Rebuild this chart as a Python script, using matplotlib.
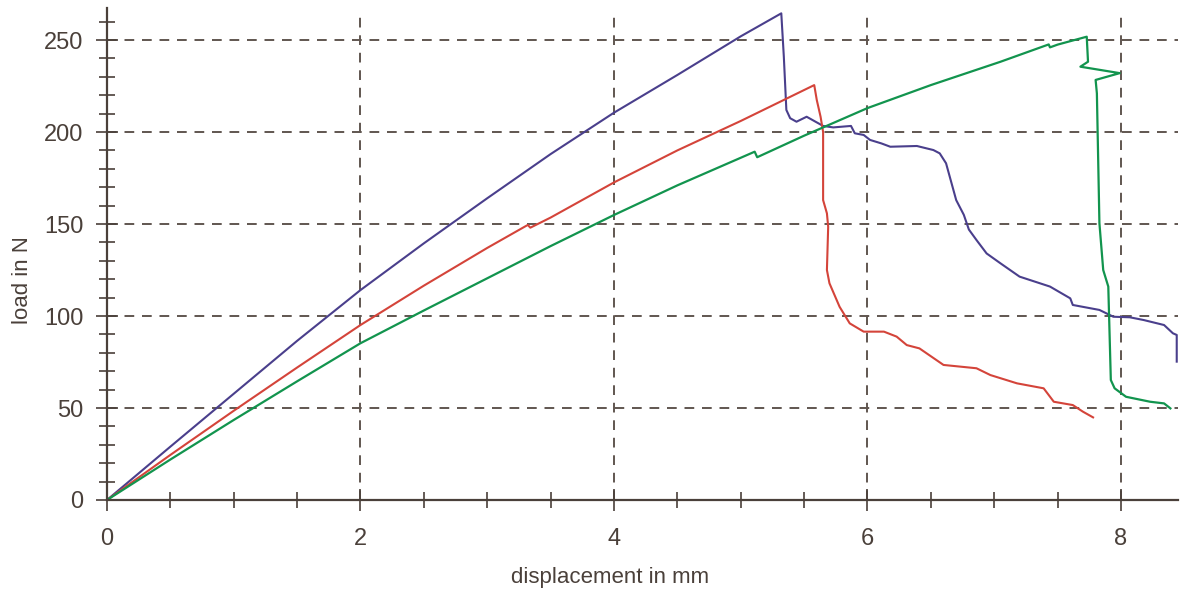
import numpy as np
import matplotlib.pyplot as plt
from matplotlib.ticker import MultipleLocator

# load-displacement curves (x in mm, y in N)
blue_x = [0.0, 0.5, 0.94, 1.5, 2.0, 2.5, 3.0, 3.5, 4.0, 4.5, 5.0, 5.32,
          5.34, 5.36, 5.39, 5.44, 5.52, 5.59, 5.65, 5.73, 5.87, 5.90, 5.97,
          6.02, 6.11, 6.18, 6.39, 6.52, 6.57, 6.62, 6.70, 6.76, 6.80, 6.86,
          6.94, 7.05, 7.20, 7.44, 7.60, 7.62, 7.83, 7.94, 8.07, 8.18, 8.34,
          8.41, 8.44, 8.44]
blue_y = [0.0, 29.0, 54.3, 86.5, 114.1, 139.5, 164.0, 188.0, 210.5, 231.0,
          252.0, 264.5, 241.0, 212.0, 207.5, 205.6, 208.3, 205.6, 203.3,
          202.5, 203.3, 199.3, 198.4, 195.7, 193.8, 192.0, 192.4, 190.2,
          188.4, 183.0, 163.0, 155.0, 147.0, 141.3, 134.0, 128.6, 121.4,
          116.0, 109.6, 106.0, 103.3, 99.6, 99.3, 97.8, 95.1, 90.6, 89.7,
          75.2]

red_x = [0.0, 0.5, 1.0, 1.5, 2.0, 2.5, 3.0, 3.32, 3.34, 3.5, 4.0, 4.5, 5.0,
         5.58, 5.60, 5.63, 5.65, 5.65, 5.68, 5.69, 5.68, 5.70, 5.78, 5.86,
         5.97, 6.13, 6.23, 6.31, 6.41, 6.60, 6.86, 6.97, 7.18, 7.39, 7.47,
         7.62, 7.70, 7.78]
red_y = [0.0, 24.5, 48.5, 72.0, 95.1, 116.5, 137.0, 149.5, 148.0, 153.5,
         172.6, 190.0, 206.0, 225.5, 217.4, 208.3, 200.0, 163.0, 155.8,
         148.5, 125.0, 117.8, 105.0, 96.0, 91.5, 91.5, 88.8, 84.2, 82.4,
         73.4, 71.6, 67.9, 63.4, 60.7, 53.4, 51.6, 48.0, 44.9]

green_x = [0.0, 0.5, 1.0, 1.5, 2.0, 2.5, 3.0, 3.5, 4.0, 4.5, 5.0, 5.11,
           5.13, 5.5, 6.0, 6.5, 7.05, 7.43, 7.44, 7.5, 7.73, 7.74, 7.68,
           7.99, 7.80, 7.81, 7.83, 7.86, 7.90, 7.92, 7.95, 8.04, 8.23, 8.34,
           8.39]
green_y = [0.0, 22.0, 43.5, 64.5, 85.2, 103.0, 120.5, 138.0, 154.9, 171.0,
           186.0, 189.3, 186.3, 198.0, 213.0, 225.5, 238.2, 247.6, 246.0,
           247.5, 251.8, 238.2, 235.5, 232.0, 228.3, 221.0, 150.4, 125.0,
           116.0, 65.2, 60.7, 56.1, 53.4, 52.5, 49.8]

ink = '#4a403a'
plt.rcParams['font.family'] = ['Liberation Sans', 'DejaVu Sans']

fig = plt.figure(figsize=(11.86, 5.95), dpi=100)
ax = fig.add_axes([107/1186, 1 - 500/595, 1071/1186, 492/595])

ax.plot(blue_x, blue_y, color='#4a3f8c', lw=1.5)
ax.plot(red_x, red_y, color='#d4443a', lw=1.5)
ax.plot(green_x, green_y, color='#12944e', lw=1.6)

ax.set_xlim(0, 8.45)
ax.set_ylim(0, 267.4)

# dashed grid at the major values only
for gx in [2, 4, 6, 8]:
    ax.plot([gx, gx], [0, 264], color='#605650', lw=1.4, ls=(0, (5, 4)), zorder=0)
for gy in [50, 100, 150, 200, 250]:
    ax.axhline(gy, color='#605650', lw=1.4, ls=(0, (5, 4)), zorder=0)

for s in ['top', 'right']:
    ax.spines[s].set_visible(False)
for s in ['left', 'bottom']:
    ax.spines[s].set_color(ink)
    ax.spines[s].set_linewidth(1.6)

ax.xaxis.set_major_locator(MultipleLocator(2))
ax.xaxis.set_minor_locator(MultipleLocator(0.5))
ax.yaxis.set_major_locator(MultipleLocator(50))
ax.yaxis.set_minor_locator(MultipleLocator(10))
ax.tick_params(which='major', direction='inout', length=16, width=1.2,
               color=ink, labelcolor=ink, labelsize=17)
ax.tick_params(which='minor', direction='inout', length=12, width=1.2, color=ink)
ax.tick_params(axis='x', which='major', pad=12)
ax.tick_params(axis='y', which='major', pad=9)

ax.set_xlabel('displacement in mm', fontsize=16, color=ink)
ax.set_ylabel('load in N', fontsize=16, color=ink)
ax.xaxis.set_label_coords(0.47, -0.137)
ax.yaxis.set_label_coords(-0.069, 0.447)

fig.savefig('out.png', dpi=100)
